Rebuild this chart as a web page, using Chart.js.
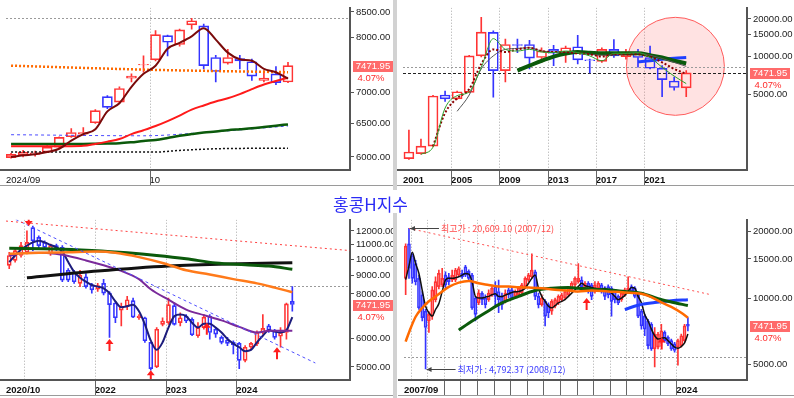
<!DOCTYPE html>
<html>
<head>
<meta charset="utf-8">
<script src="https://cdn.jsdelivr.net/npm/chart.js@4.4.1/dist/chart.umd.min.js"></script>
<style>
  body { margin: 0; background: #fff; }
  #wrap { position: relative; width: 794px; height: 398px; overflow: hidden; background: #fff; }
  canvas { position: absolute; }
  .sep { position: absolute; left: 393px; width: 4px; background: #d2d2d2; }
  #title { position: absolute; left: 333px; top: 193px; font: 17px "Noto Sans CJK KR", sans-serif; color: #2b2bf5; line-height: 22px; }
</style>
</head>
<body>
<div id="wrap">
  <canvas id="tl" width="393" height="188" style="left:0;top:0"></canvas>
  <canvas id="tr" width="397" height="188" style="left:397px;top:0"></canvas>
  <canvas id="bl" width="393" height="186" style="left:0;top:212px"></canvas>
  <canvas id="br" width="396" height="186" style="left:398px;top:212px"></canvas>
  <div class="sep" style="top:0;height:190px"></div>
  <div class="sep" style="top:213px;height:185px"></div>
  <div id="title">홍콩H지수</div>
</div>
<script>
const lastClose = 7471.95;
const lastChange = '4.07%';

// top-left: daily candles, 2024/09 - 10
const tlOpen  = [5991,6023,6035,6071,6143,6298,6339,6514,6935,6843,7251,7482,7576,8028,7860,8238,8219,7618,7517,7600,7541,7212,7325,7183];
const tlHigh  = [6052,6095,6085,6167,6298,6423,6438,6721,6951,7100,7325,7648,8129,8041,8155,8368,8257,7660,7768,7660,7588,7383,7453,7529];
const tlLow   = [5983,6000,6012,6061,6133,6289,6313,6504,6737,6827,7183,7354,7558,7648,7829,8155,7412,7183,7499,7412,7212,7183,7139,7172];
const tlClose = [6038,6071,6061,6143,6289,6363,6363,6705,6758,7072,7285,7494,8047,7903,8142,8322,7470,7366,7618,7558,7285,7251,7172,7471.95];
const tlMa5  = [6000,6023,6038,6071,6119,6240,6339,6413,6695,6827,7100,7325,7470,7780,7891,8016,8174,7953,7708,7588,7558,7412,7354,7240];
const tlMa20 = [6157,6157,6157,6157,6157,6157,6162,6191,6225,6264,6339,6398,6463,6540,6627,6721,6790,6854,6908,6978,7061,7139,7200,7257];
const tlMa60 = [6191,6191,6191,6191,6191,6191,6191,6193,6196,6200,6215,6235,6249,6279,6313,6339,6363,6378,6398,6413,6428,6448,6468,6488];
const tlBlueAt = [0, 11, 16, 23],      tlBlue = [6329, 6313, 6362, 6463];
const tlOrangeAt = [0, 12, 23],        tlOrange = [7470, 7395, 7354];
const tlBlackAt = [0, 12, 14, 17, 23], tlBlack = [6071, 6071, 6095, 6119, 6128];
const tlLevels = [8368];
const tlYTicks = [8500, 8000, 7000, 6500, 6000];
const tlXTicks = [-0.42, 11.5];
const tlXLabels = ['2024/09', '10'];

// top-right: yearly candles, 2001 - 2024
const trOpen  = [1561,1707,1957,4985,4640,5226,10180,15630,7788,12540,12540,9880,11470,10800,12030,9478,9200,11470,10060,10930,9880,8120,6438,5681];
const trHigh  = [2621,2231,4950,5353,5353,10302,20609.10,16100,13870,13870,13540,11815,12320,12170,14810,9592,11815,13710,11470,11470,12170,8515,6913,7790];
const trLow   = [1540,1690,1940,4425,4600,5200,10000,4792.37,6323,10800,8025,9040,8515,9040,8773,7470,9040,9880,9592,8268,8023,4838,5450,4838];
const trClose = [1759,1957,4896,4640,5290,10180,15720,7788,12540,12320,9765,11130,10680,11815,9478,9310,11470,10180,10930,9880,8120,6592,5715,7471.95];
const trMa3  = [null,1687,1923,3928,4925,5289,8266,13956,11467,11131,11467,10934,10805,11131,10805,10180,9311,10677,10677,10805,9882,8266,7038,6138];
const trMa5  = [null,null,1957,3592,4696,5547,8773,11467,10934,11467,11814,11131,10934,10934,10677,10488,10060,10488,10488,10488,10060,9037,8024,7338];
const trMa7  = [null,null,null,null,3700,4984,8024,10180,11467,11674,11814,11131,10934,10934,10805,10488,10302,10364,10613,10677,10302,9707,9037,8415];
const trMa10 = [null,null,null,null,null,null,null,null,null,7788,8515,9311,10060,10613,10934,10805,10677,10677,10677,10677,10302,9882,9311,8878];
const trBlueAt = [19, 20, 21, 22, 23], trBlue = [9146, 9311, 9592, 9765, 9882];
const trLevels = [8300, lastClose];
const trCircle = { at: 22.1, value: 8415 };
const trYTicks = [20000, 15000, 10000, 5000];
const trXTicks = [-0.49, 3.5, 7.5, 11.5, 15.5, 19.5];
const trXLabels = ['2001', '2005', '2009', '2013', '2017', '2021'];

// bottom-left: monthly candles, 2020/10 - 2024/10
const blOpen  = [9615,9924,10244,10462,12257,11505,11146,10352,10913,10798,9315,9218,8562,8930,8473,8250,8562,8038,7544,7200,
                 7387,7660,6861,6861,5857,5000,6578,6647,7420,6647,6934,6789,6110,6441,6934,6373,6046,5945,5857,5820,
                 5215,5675,5796,6240,6509,6306,6090,6240,7624];
const blHigh  = [10462,10685,11146,12000,12387,11627,11264,11029,11029,10913,9414,9315,9315,9121,8562,8562,8790,8123,7624,7544,
                 7870,7787,7008,6890,5857,6441,6861,7787,7544,7082,7008,6861,6647,7008,7008,6441,6110,6046,5919,5857,
                 5735,5857,6306,7008,6578,6373,6441,7544,8384];
const blLow   = [9414,9820,10136,10352,10573,10685,10685,10244,10573,8653,8653,8562,8384,8296,8038,8123,7953,6046,6647,6509,
                 7233,6861,6789,5857,4896,4975,6509,6578,6543,6509,6647,6110,6046,6373,5982,6046,5796,5735,5440,4948,
                 5161,5615,5735,6175,6240,5982,5675,5982,7157];
const blClose = [10244,10573,10913,11146,11264,10913,10798,10913,10685,8745,8745,8653,9025,8384,8209,8440,8038,7465,6861,7387,
                 7705,6890,6934,5919,4948,6373,6718,7465,6578,6861,6718,6150,6441,6890,6240,6175,5857,5820,5770,5215,
                 5675,5820,6240,6410,6333,6046,6240,7500,7471.95];
const blShort = [9820,10244,10640,10913,11146,11264,11146,10960,10798,10506,9820,9218,8874,8653,8473,8384,8296,8038,7624,7340,
                 7387,7465,7157,6578,5919,5580,5857,6441,6934,7008,6934,6647,6441,6605,6605,6441,6240,5982,5808,5675,
                 5533,5580,5857,6110,6333,6280,6240,6333,6890];
const blPurpleAt = [0,3,7,9,13,16,19,22,24,27,30,33,36,39,42,44,48];
const blPurple   = [10244,10418,10396,10287,9924,9615,9276,8798,8240,7705,7233,6978,6747,6468,6240,6306,6306];
const blOrangeAt = [0,5,10,15,18,22,26,30,34,38,42,45,48];
const blOrange   = [10352,10418,10462,10506,10418,10136,9761,9315,9066,8798,8562,8331,8089];
const blGreenAt  = [0,8,14,20,25,30,35,40,44,48];
const blGreen    = [10728,10685,10573,10418,10244,10029,9761,9651,9570,9375];
const blBlackAt  = [3,15,27,39,48];
const blBlack    = [8874,9269,9575,9717,9779];
const blTrendBlueAt = [1.1, 51.9],  blTrendBlue = [12920, 5128];
const blTrendRedAt  = [-0.55, 57.8], blTrendRed  = [12785, 10573];
const blLevels = [8420];
const blArrowAt  = [3.3, 17, 24, 33.5, 45.4];
const blArrowTip = [12387, 5982, 4896, 6647, 5675];
const blArrowDir = ['down', 'up', 'up', 'up', 'up'];
const blYTicks = [12000, 11000, 10000, 9000, 8000, 6000, 5000];
const blXTicks = [-0.55, 2.5, 14.5, 26.5, 38.5];
const blXLabels = ['2020/10', '', '2022', '2023', '2024'];

// bottom-right: long history 2007/09 - 2024
const brOpen  = [12268,17535,15560,14300,12268,10349,8731,7884,8297,9835,11268,11461,12692,12478,12061,12061,12692,12910,13819,13200,
                 12692,10003,9506,10527,10003,9835,10349,11268,10707,10175,9669,10891,10891,10175,10349,10527,11268,12061,12478,13132,
                 10175,9345,9669,9345,8731,9188,9506,9835,10003,10349,10891,11461,11858,12061,11078,11658,11461,10707,11078,11461,
                 11078,11268,11078,10707,10175,9835,10349,10891,11268,11078,10349,8731,8297,7884,7621,5905,6006,6320,6999,6651,
                 6429,6214,6006,6109,6429,7621];
const brHigh  = [17535,20609.10,15833,14800,12700,10700,8900,8700,11268,12478,13357,13600,13132,12910,13357,13600,13819,13357,14055,13400,
                 12910,10175,10891,10707,10349,10891,11268,11858,12061,10527,10891,11078,11268,10891,11268,11658,12478,12910,15833,13357,
                 10527,10349,9835,9506,9835,10003,10349,10527,10891,11268,11858,12478,14297,12478,11858,11858,11658,11858,11858,11658,
                 11268,11461,11268,10891,10349,10707,11078,12478,11461,11268,10527,8900,8439,8020,7751,7366,7000,7621,7119,6765,
                 6539,6320,6539,6881,7621,8157];
const brLow   = [10349,12268,11658,11460,8900,7880,4792.37,7000,8020,9600,11000,11268,11078,11461,11858,11858,12478,12268,12478,12061,
                 8881,7884,9345,9345,9033,9669,10175,9188,8584,8900,9506,10003,9835,10003,10175,10349,11078,11858,12268,9835,
                 9033,9188,7492,8157,8439,9033,9345,9669,9835,10175,10707,11268,11658,11078,10891,10527,9835,10527,10891,10527,
                 9835,10003,8297,9506,9345,9669,10175,10707,10527,10003,8157,7241,6765,5905,5805,4897,5905,6109,6320,6109,
                 5805,5707,4982,6006,6320,7119];
const brClose = [17150,13586,12268,11860,9033,8157,7366,8439,10891,11858,12910,12268,11461,11858,12692,13357,13586,12478,12692,12268,
                 9033,8439,10527,9835,9345,10527,11078,10175,9835,9345,10527,10349,10003,10707,11078,11461,12268,12692,13357,10175,
                 9345,10003,8297,8584,9669,9835,10175,10349,10707,11078,11658,12268,12268,11268,11658,10707,10175,11461,11658,10707,
                 10175,10349,9669,9835,9506,10527,10891,11078,10707,10175,8297,7492,7241,6109,5905,6881,6881,7119,6429,6214,
                 5905,5805,6429,6765,7492,7471.95];
const brShort = [12100,13960,16100,14297,12910,10816,9188,8584,8297,8881,9440,10707,12061,12268,12268,12350,12478,12692,12910,12820,
                 11858,10175,10003,10003,10100,10175,10349,10450,10175,10175,10310,10450,10600,10670,10707,10816,11078,11658,12268,12692,
                 11078,10175,9669,9188,9033,9250,9506,9669,9835,10175,10527,10891,11268,11658,11380,11268,11150,11078,11000,10960,
                 11078,10816,10527,10175,9835,10003,10280,10707,11150,11078,10175,9506,8439,7884,7241,6765,6539,6580,6630,6429,
                 6214,6006,5945,6050,6280,6881];
const brOrangeAt = [0,1,3,5,7,10,13,16,19,22,25,28,31,34,37,41,45,49,52,56,61,66,71,74,77,80,83,85];
const brOrange   = [6367,6999,8240,9033,9669,10420,11230,11740,11940,11658,11461,11268,11268,11190,11150,11078,10891,10816,10707,10816,10707,10600,10450,10100,9570,9126,8584,8157];
const brGreenAt  = [16,19,24,29,34,39,44,49,52,56,61,66,71,76,80,85];
const brGreen    = [7170,7699,8584,9506,10175,10816,11078,11154,11078,10966,10891,10707,10527,9935,9603,9251];
const brBlueAt   = [66,70,75,80,85];
const brBlue     = [8884,9283,9540,9735,9838];
const brTrendAt  = [1, 92], brTrend = [20609.10, 10350];
const brLevels = [5420];
const brArrowAt  = [54.5, 77.1];
const brArrowTip = [10000, 6650];
const brArrowDir = ['up', 'up'];
const brNotes = [
  { at: 1, value: 20609.10, text: '최고가 : 20,609.10 (2007/12)', color: '#ff4a4a' },
  { at: 6, value: 4792.37,  text: '최저가 : 4,792.37 (2008/12)',  color: '#3a3aff' }
];
const brYTicks = [20000, 15000, 10000, 5000];
const brXTicks = [-0.5, 1.5, 6.5, 11.5, 16.5, 21.5, 26.5, 31.5, 36.5, 41.5, 46.5, 51.5, 56.5, 61.5, 66.5, 71.5, 76.5, 81.5];
const brXLabels = ['2007/09', '', '', '', '', '', '', '', '', '', '', '', '', '', '', '', '', '2024'];

const FONT = '"Liberation Sans", Arial, sans-serif';
const UP = '#ff3434', DOWN = '#3434ff';

function candles(o, h, l, c, w) {
  const col = c.map((v, i) => v >= o[i] ? UP : DOWN);
  return [
    { type: 'bar', order: 3, grouped: false, barThickness: 1, backgroundColor: col,
      data: o.map((v, i) => ({ x: i, y: [Math.max(v, c[i]), h[i]] })) },
    { type: 'bar', order: 3, grouped: false, barThickness: 1, backgroundColor: col,
      data: o.map((v, i) => ({ x: i, y: [l[i], Math.min(v, c[i])] })) },
    { type: 'bar', order: 2, grouped: false, barThickness: w, backgroundColor: 'rgba(255,255,255,0)',
      borderColor: col, borderWidth: 1, borderSkipped: false,
      data: o.map((v, i) => ({ x: i, y: [v, c[i]] })) }
  ];
}

function line(xs, ys, color, width, dash, smooth) {
  return { type: 'line', order: 1, data: xs.map((x, i) => ({ x: x, y: ys[i] })),
    borderColor: color, borderWidth: width, borderDash: dash || [], pointRadius: 0,
    cubicInterpolationMode: smooth === false ? 'default' : 'monotone', fill: false };
}
function byIndex(ys) { return ys.map((y, i) => i); }

function arrow(ctx, px, tip, dir) {
  const s = dir === 'up' ? 1 : -1, len = dir === 'up' ? 12 : 8, head = 5;
  ctx.beginPath();
  ctx.moveTo(px, tip);
  ctx.lineTo(px - 4, tip + s * head);
  ctx.lineTo(px - 1, tip + s * head);
  ctx.lineTo(px - 1, tip + s * len);
  ctx.lineTo(px + 1, tip + s * len);
  ctx.lineTo(px + 1, tip + s * head);
  ctx.lineTo(px + 4, tip + s * head);
  ctx.closePath();
  ctx.fill();
}

function deco(p) {
  return {
    id: 'deco',
    beforeDatasetsDraw(chart) {
      const { ctx, chartArea: a, scales: { x, y } } = chart;
      ctx.save();
      ctx.beginPath(); ctx.rect(a.left, a.top, a.right - a.left, a.bottom - a.top); ctx.clip();
      // vertical dotted grid
      ctx.strokeStyle = '#a8a8a8'; ctx.lineWidth = 1; ctx.setLineDash([1, 2]);
      p.xTicks.forEach((v, i) => {
        if (!p.gridOn[i]) return;
        const px = Math.round(x.getPixelForValue(v)) + 0.5;
        ctx.beginPath(); ctx.moveTo(px, a.top); ctx.lineTo(px, a.bottom); ctx.stroke();
      });
      if (p.circle) {
        ctx.setLineDash([]);
        ctx.beginPath();
        ctx.arc(x.getPixelForValue(p.circle.at), y.getPixelForValue(p.circle.value), 49, 0, Math.PI * 2);
        ctx.fillStyle = 'rgba(255,110,110,0.2)'; ctx.fill();
        ctx.strokeStyle = '#ff5c5c'; ctx.lineWidth = 1; ctx.stroke();
      }
      p.levels.forEach((v, i) => {
        const st = p.levelStyle[i];
        const py = Math.round(y.getPixelForValue(v)) + 0.5;
        ctx.setLineDash(st.dash); ctx.strokeStyle = st.color; ctx.lineWidth = 1;
        ctx.beginPath(); ctx.moveTo(a.left, py); ctx.lineTo(a.right, py); ctx.stroke();
      });
      ctx.restore();
    },
    afterDatasetsDraw(chart) {
      const { ctx, chartArea: a, scales: { x, y } } = chart;
      ctx.save();
      ctx.beginPath(); ctx.rect(a.left, a.top, a.right - a.left, a.bottom - a.top); ctx.clip();
      ctx.fillStyle = '#ff1e1e';
      (p.arrowAt || []).forEach((v, i) => arrow(ctx, x.getPixelForValue(v), y.getPixelForValue(p.arrowTip[i]), p.arrowDir[i]));
      (p.notes || []).forEach(n => {
        const px = x.getPixelForValue(n.at) + 1, py = Math.round(y.getPixelForValue(n.value)) + 0.5;
        ctx.strokeStyle = '#444'; ctx.fillStyle = '#444'; ctx.lineWidth = 1;
        ctx.beginPath(); ctx.moveTo(px, py); ctx.lineTo(px + 29, py); ctx.stroke();
        ctx.beginPath(); ctx.moveTo(px, py); ctx.lineTo(px + 5, py - 2.5); ctx.lineTo(px + 5, py + 2.5); ctx.closePath(); ctx.fill();
        ctx.fillStyle = n.color; ctx.font = '9px "Noto Sans CJK KR", sans-serif';
        ctx.textAlign = 'left'; ctx.textBaseline = 'middle';
        ctx.fillText(n.text, px + 31, py);
      });
      ctx.restore();
    },
    afterDraw(chart) {
      const { ctx, chartArea: a, scales: { x, y } } = chart;
      ctx.save();
      ctx.strokeStyle = '#555'; ctx.lineWidth = 2;
      ctx.beginPath(); ctx.moveTo(0, a.bottom + 1); ctx.lineTo(a.right + 1, a.bottom + 1); ctx.stroke();
      ctx.strokeStyle = '#666'; ctx.lineWidth = 1;
      p.xTicks.forEach((v, i) => {
        if (!p.sepOn[i]) return;
        const px = Math.round(x.getPixelForValue(v)) + 0.5;
        ctx.beginPath(); ctx.moveTo(px, a.bottom + 2); ctx.lineTo(px, a.bottom + 16); ctx.stroke();
      });
      ctx.strokeStyle = '#9a9a9a';
      ctx.beginPath(); ctx.moveTo(0, a.bottom + 16.5); ctx.lineTo(chart.width, a.bottom + 16.5); ctx.stroke();
      const yb = y.getPixelForValue(lastClose);
      ctx.fillStyle = '#ff6b6b'; ctx.fillRect(a.right + 3, Math.round(yb) - 5, 40, 11);
      ctx.font = '9.5px ' + FONT; ctx.textAlign = 'center'; ctx.textBaseline = 'middle';
      ctx.fillStyle = '#fff'; ctx.fillText(lastClose.toFixed(2), a.right + 23, Math.round(yb) + 0.5);
      ctx.fillStyle = '#ff2a2a'; ctx.fillText(lastChange, a.right + 21, Math.round(yb) + 12);
      ctx.restore();
    }
  };
}

function makeChart(id, p) {
  new Chart(document.getElementById(id), {
    type: 'bar',
    data: { datasets: p.datasets },
    options: {
      responsive: false, animation: false, events: [],
      layout: { padding: { top: p.padTop, left: 0, right: 0, bottom: 0 } },
      plugins: { legend: { display: false }, tooltip: { enabled: false } },
      scales: {
        x: {
          type: 'linear', min: p.xMin, max: p.xMax, offset: false,
          afterBuildTicks: s => { s.ticks = p.xTicks.map(v => ({ value: v })); },
          afterFit: s => { s.height = p.xHeight; },
          grid: { offset: false, drawTicks: false, drawOnChartArea: false },
          border: { display: false },
          ticks: { autoSkip: false, maxRotation: 0, align: 'start', padding: 6, color: '#111',
                   font: p.xFont, callback: (v, i) => p.xLabels[i] }
        },
        y: {
          type: 'logarithmic', position: 'right', min: p.yMin, max: p.yMax,
          afterBuildTicks: s => { s.ticks = p.yTicks.map(v => ({ value: v })); },
          afterFit: s => { s.width = p.yWidth; },
          grid: { drawOnChartArea: false, drawTicks: true, tickLength: 4, tickColor: '#555' },
          border: { color: '#555', width: 2 },
          ticks: { padding: 2, color: '#222', font: { family: FONT, size: 9.5 },
                   callback: v => Number(v).toFixed(2) }
        }
      }
    },
    plugins: [deco(p)]
  });
}

const boldX = { family: FONT, size: 9.5, weight: 'bold' };
const dotted = { color: '#9a9a9a', dash: [2, 2] };

makeChart('tl', {
  padTop: 4, xHeight: 19, yWidth: 43, xMin: -0.42, xMax: 28.15, yMin: 5829, yMax: 8586,
  yTicks: tlYTicks, xTicks: tlXTicks, xLabels: tlXLabels, gridOn: [false, true], sepOn: [false, true],
  xFont: { family: FONT, size: 9.5 },
  levels: tlLevels, levelStyle: [dotted],
  datasets: [
    line(byIndex(tlMa5), tlMa5, '#7a0a0a', 2),
    line(byIndex(tlMa20), tlMa20, '#ff1a1a', 2),
    line(byIndex(tlMa60), tlMa60, '#0b5a0b', 2.5),
    line(tlBlueAt, tlBlue, '#4a4aff', 1, [3, 3]),
    line(tlOrangeAt, tlOrange, '#ff6a00', 2.5, [2, 2]),
    line(tlBlackAt, tlBlack, '#111', 1.5, [2, 2]),
    ...candles(tlOpen, tlHigh, tlLow, tlClose, 10)
  ]
});

makeChart('tr', {
  padTop: 4, xHeight: 19, yWidth: 47, xMin: -0.49, xMax: 28.04, yMin: 1290, yMax: 24550,
  yTicks: trYTicks, xTicks: trXTicks, xLabels: trXLabels,
  gridOn: [false, true, true, true, true, true], sepOn: [false, true, true, true, true, true],
  xFont: boldX, circle: trCircle,
  levels: trLevels, levelStyle: [dotted, { color: '#222', dash: [3, 2] }],
  datasets: [
    line(byIndex(trMa3), trMa3, '#2ca02c', 1),
    line(byIndex(trMa5), trMa5, '#8b0000', 2, [2, 2]),
    line(byIndex(trMa7), trMa7, '#555', 1),
    line(byIndex(trMa10), trMa10, '#0b5a0b', 4),
    line(trBlueAt, trBlue, '#1f3fff', 3),
    ...candles(trOpen, trHigh, trLow, trClose, 10)
  ]
});

makeChart('bl', {
  padTop: 5, xHeight: 19, yWidth: 43, xMin: -0.55, xMax: 57.78, yMin: 4626, yMax: 12897,
  yTicks: blYTicks, xTicks: blXTicks, xLabels: blXLabels,
  gridOn: [false, true, true, true, true], sepOn: [false, false, true, true, true],
  xFont: boldX,
  levels: blLevels, levelStyle: [dotted],
  arrowAt: blArrowAt, arrowTip: blArrowTip, arrowDir: blArrowDir,
  datasets: [
    line(blTrendRedAt, blTrendRed, '#ff4040', 1, [2, 3], false),
    line(blTrendBlueAt, blTrendBlue, '#5050ff', 1, [3, 3], false),
    line(blOrangeAt, blOrange, '#ff7a1a', 2.5),
    line(blGreenAt, blGreen, '#0b5a0b', 3),
    line(blBlackAt, blBlack, '#111', 3),
    line(blPurpleAt, blPurple, '#7a2a9a', 2),
    line(byIndex(blShort), blShort, '#1c1c7c', 2),
    ...candles(blOpen, blHigh, blLow, blClose, 4)
  ]
});

makeChart('br', {
  padTop: 5, xHeight: 19, yWidth: 47, xMin: -0.5, xMax: 102.8, yMin: 4318, yMax: 22550,
  yTicks: brYTicks, xTicks: brXTicks, xLabels: brXLabels,
  gridOn: brXTicks.map((v, i) => i > 0), sepOn: brXTicks.map((v, i) => i > 2),
  xFont: boldX,
  levels: brLevels, levelStyle: [dotted],
  arrowAt: brArrowAt, arrowTip: brArrowTip, arrowDir: brArrowDir, notes: brNotes,
  datasets: [
    line(brTrendAt, brTrend, '#ff5050', 1, [2, 3], false),
    line(brOrangeAt, brOrange, '#ff6a00', 2.5),
    line(brGreenAt, brGreen, '#0b5a0b', 3),
    line(brBlueAt, brBlue, '#1f3fff', 3),
    line(byIndex(brShort), brShort, '#111', 1.5),
    ...candles(brOpen, brHigh, brLow, brClose, 3)
  ]
});
</script>
</body>
</html>
